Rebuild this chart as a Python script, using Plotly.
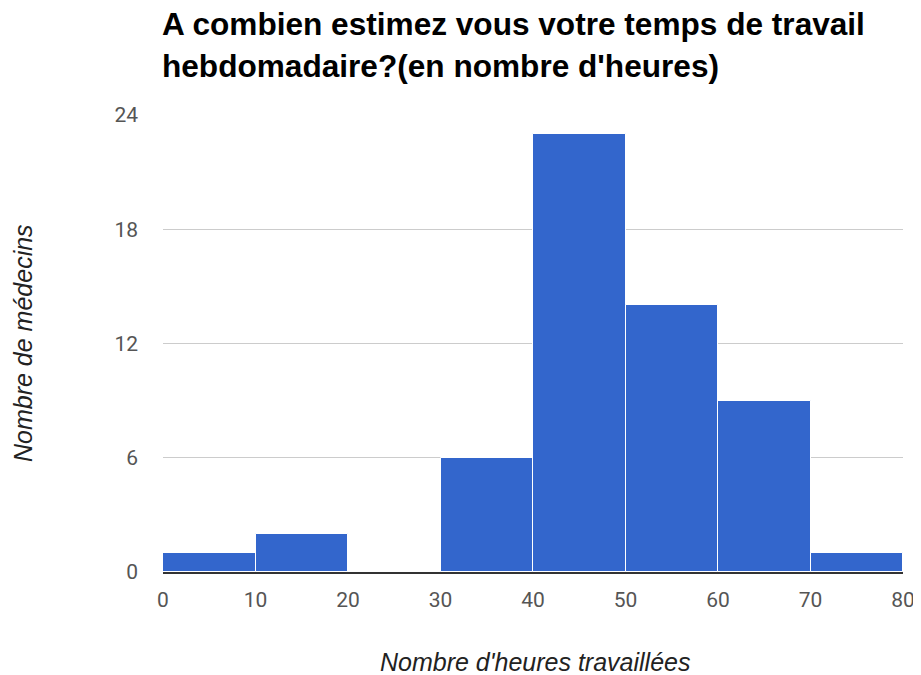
import plotly.graph_objects as go

bin_starts = [0, 10, 20, 30, 40, 50, 60, 70]
counts = [1, 2, 0, 6, 23, 14, 9, 1]
bin_width = 10
y_ticks = [0, 6, 12, 18, 24]
x_ticks = [0, 10, 20, 30, 40, 50, 60, 70, 80]
title_lines = ["A combien estimez vous votre temps de travail",
               "hebdomadaire?(en nombre d'heures)"]
x_title = "Nombre d'heures travaillées"
y_title = "Nombre de médecins"

centers = [s + bin_width / 2 for s in bin_starts]

W, H = 913, 667
L, R, T, B = 155, 18, 107, 103
PW, PH = W - L - R, H - T - B

fig = go.Figure(go.Bar(
    x=centers, y=counts, width=[bin_width] * len(centers),
    marker=dict(color="#3366cc", line=dict(color="white", width=1)),
    hoverinfo="x+y",
))

title_font = dict(family="Liberation Sans, Arial, sans-serif", size=31.6, color="#000000")
axis_title_font = dict(family="Liberation Sans, Arial, sans-serif", size=25, color="#222222")

annotations = [
    dict(text="<b>%s</b>" % title_lines[0], xref="paper", yref="paper",
         x=-3 / PW, y=1 + (T - 16) / PH, xanchor="left", yanchor="middle",
         showarrow=False, font=title_font),
    dict(text="<b>%s</b>" % title_lines[1], xref="paper", yref="paper",
         x=-3 / PW, y=1 + (T - 58) / PH, xanchor="left", yanchor="middle",
         showarrow=False, font=title_font),
    dict(text="<i>%s</i>" % x_title, xref="paper", yref="paper",
         x=(527 - L) / PW, y=-(654 - (T + PH)) / PH, xanchor="center", yanchor="middle",
         showarrow=False, font=axis_title_font),
    dict(text="<i>%s</i>" % y_title, xref="paper", yref="paper",
         x=(15 - L) / PW, y=((T + PH) - 335) / PH, xanchor="center", yanchor="middle",
         textangle=-90, showarrow=False, font=axis_title_font),
]

fig.update_layout(
    width=W, height=H,
    margin=dict(l=L, r=R, t=T, b=B),
    plot_bgcolor="white", paper_bgcolor="white",
    font=dict(family="Liberation Sans, Arial, sans-serif", color="#444444"),
    bargap=0,
    showlegend=False,
    annotations=annotations,
)

tick_font = dict(family="Roboto, Arial, sans-serif", size=21, color="#555555")

fig.update_xaxes(
    range=[0, 80], tickvals=x_ticks, ticks="", showgrid=False,
    showline=True, linecolor="#333333", linewidth=2,
    tickfont=tick_font, ticklabelstandoff=8, automargin=False,
    zeroline=False, fixedrange=True,
)
fig.update_yaxes(
    range=[0, 24], tickvals=y_ticks, ticks="",
    showgrid=True, gridcolor="#cccccc", gridwidth=1,
    tickfont=tick_font, ticklabelstandoff=24, automargin=False,
    zeroline=False, fixedrange=True,
)

fig.write_html("out.html")
